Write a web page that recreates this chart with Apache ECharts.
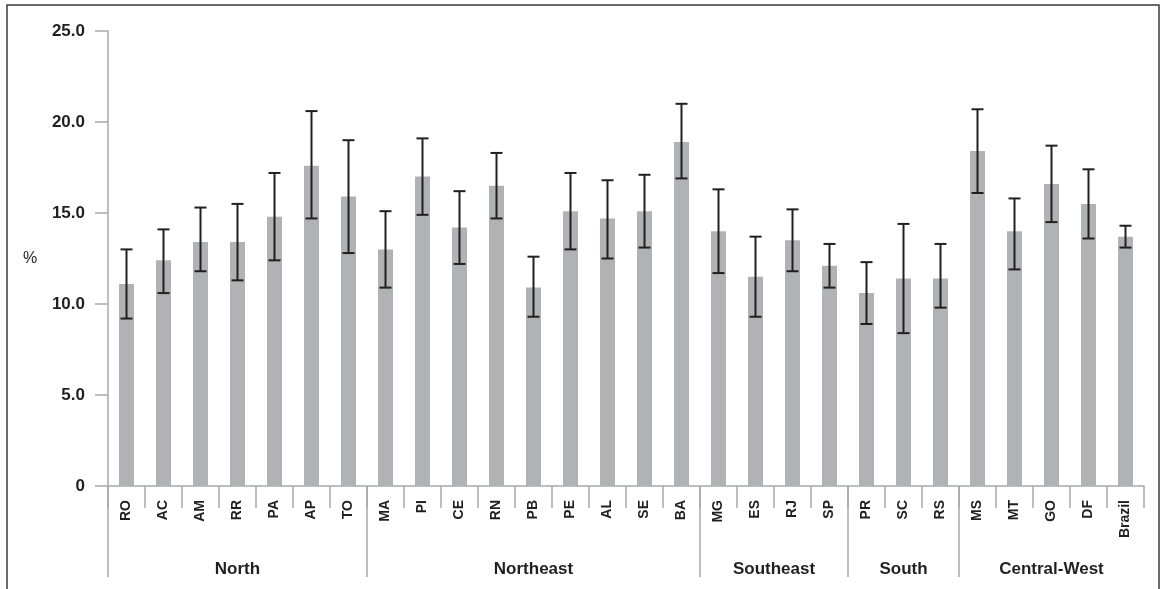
<!DOCTYPE html>
<html>
<head>
<meta charset="utf-8">
<script src="https://cdn.jsdelivr.net/npm/echarts@6/dist/echarts.min.js"></script>
<style>
html,body{margin:0;padding:0;background:#fff;}
#chart{width:1162px;height:589px;}
</style>
</head>
<body>
<div id="chart"></div>
<script>
const categories = ['RO','AC','AM','RR','PA','AP','TO','MA','PI','CE','RN','PB','PE','AL','SE','BA','MG','ES','RJ','SP','PR','SC','RS','MS','MT','GO','DF','Brazil'];
const values =    [11.1,12.4,13.4,13.4,14.8,17.6,15.9,13.0,17.0,14.2,16.5,10.9,15.1,14.7,15.1,18.9,14.0,11.5,13.5,12.1,10.6,11.4,11.4,18.4,14.0,16.6,15.5,13.7];
const lowerCI =   [9.2,10.6,11.8,11.3,12.4,14.7,12.8,10.9,14.9,12.2,14.7,9.3,13.0,12.5,13.1,16.9,11.7,9.3,11.8,10.9,8.9,8.4,9.8,16.1,11.9,14.5,13.6,13.1];
const upperCI =   [13.0,14.1,15.3,15.5,17.2,20.6,19.0,15.1,19.1,16.2,18.3,12.6,17.2,16.8,17.1,21.0,16.3,13.7,15.2,13.3,12.3,14.4,13.3,20.7,15.8,18.7,17.4,14.3];
const groupNames = ['North','Northeast','Southeast','South','Central-West'];
const groupStart = [0,7,16,20,23];
const groupEnd =   [6,15,19,22,27];
const yTicks = [0,5,10,15,20,25];

const FONT = '"Liberation Sans",Arial,sans-serif';
const TXT = '#231f20';
const AXIS = '#a7a9ac';

const chart = echarts.init(document.getElementById('chart'), null, {renderer:'canvas'});
chart.setOption({
  animation:false,
  backgroundColor:'#fff',
  grid:{left:108,right:18,top:31,bottom:103,containLabel:false},
  graphic:[{type:'rect',shape:{x:7,y:5,width:1152,height:600},style:{fill:'none',stroke:'#3a3a3a',lineWidth:1.5},z:0}],
  xAxis:{
    type:'category',data:categories,boundaryGap:true,
    axisLine:{show:true,lineStyle:{color:AXIS,width:1.5}},
    axisTick:{show:true,interval:0,length:22,lineStyle:{color:AXIS,width:1.5}},
    axisLabel:{interval:0,rotate:90,margin:14,fontFamily:FONT,fontWeight:'bold',fontSize:14,color:TXT}
  },
  yAxis:{
    type:'value',min:yTicks[0],max:yTicks[yTicks.length-1],interval:5,
    name:'%',nameLocation:'middle',nameRotate:0,nameGap:78,
    nameTextStyle:{fontFamily:FONT,fontSize:16,color:TXT,align:'center'},
    axisLine:{show:true,lineStyle:{color:AXIS,width:1.5}},
    axisTick:{show:true,length:13,lineStyle:{color:AXIS,width:1.5}},
    splitLine:{show:false},
    axisLabel:{margin:23,fontFamily:FONT,fontWeight:'bold',fontSize:17,color:TXT,
      formatter:v=>v===0?'0':v.toFixed(1)}
  },
  series:[
    {type:'bar',data:values,barWidth:15,itemStyle:{color:'#b1b2b6'},z:2},
    {type:'custom',z:3,
      data:categories.map((c,i)=>[i,lowerCI[i],upperCI[i]]),
      encode:{x:0,y:[1,2]},
      renderItem:function(params,api){
        const x=api.value(0);
        const lo=api.coord([x,api.value(1)]);
        const hi=api.coord([x,api.value(2)]);
        const hw=6;
        const st={stroke:TXT,lineWidth:2};
        return {type:'group',children:[
          {type:'line',shape:{x1:lo[0],y1:lo[1],x2:hi[0],y2:hi[1]},style:st},
          {type:'line',shape:{x1:lo[0]-hw,y1:lo[1],x2:lo[0]+hw,y2:lo[1]},style:st},
          {type:'line',shape:{x1:hi[0]-hw,y1:hi[1],x2:hi[0]+hw,y2:hi[1]},style:st}
        ]};
      }
    },
    {type:'custom',z:3,clip:false,silent:true,
      data:groupNames.map((g,i)=>({name:g,value:[groupStart[i],0,groupEnd[i]]})),
      encode:{x:0,y:1},
      renderItem:function(params,api){
        const s=api.value(0), e=api.value(2);
        const ps=api.coord([s,0]), pe=api.coord([e,0]);
        const bw=api.size([1,0])[0];
        const left=ps[0]-bw/2, right=pe[0]+bw/2;
        const y0=ps[1];
        return {type:'group',children:[
          {type:'line',shape:{x1:left,y1:y0,x2:left,y2:y0+91},style:{stroke:AXIS,lineWidth:1.5}},
          {type:'text',x:(left+right)/2,y:y0+83,style:{text:groupNames[params.dataIndex],
            fontFamily:FONT,fontWeight:'bold',fontSize:17,fill:TXT,align:'center',verticalAlign:'middle'}}
        ]};
      }
    }
  ]
});
</script>
</body>
</html>
